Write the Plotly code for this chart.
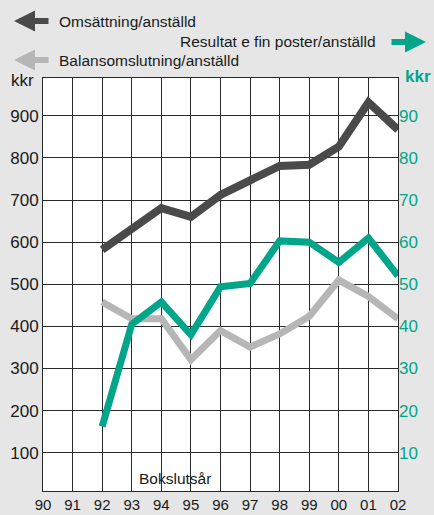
import plotly.graph_objects as go

years = list(range(1992, 2003))
year_ticks = list(range(1990, 2003))
year_labels = ["90", "91", "92", "93", "94", "95", "96", "97", "98", "99", "00", "01", "02"]

omsattning = [582, 632, 681, 660, 712, 747, 781, 784, 827, 932, 867]
balans = [458, 418, 418, 321, 390, 351, 382, 424, 510, 471, 418]
resultat = [16.2, 40.5, 45.8, 38.0, 49.4, 50.2, 60.3, 60.0, 55.2, 61.0, 52.0]

left_ticks = [100, 200, 300, 400, 500, 600, 700, 800, 900]
right_ticks = [10, 20, 30, 40, 50, 60, 70, 80, 90]

DARK = "#4a4a4a"
GRAY = "#b6b6b6"
GREEN = "#00a58a"
FONT = "Liberation Sans, Arial, sans-serif"

fig = go.Figure()
fig.add_trace(go.Scatter(x=years, y=balans, mode="lines",
                         line=dict(color=GRAY, width=7), yaxis="y"))
fig.add_trace(go.Scatter(x=years, y=omsattning, mode="lines",
                         line=dict(color=DARK, width=8), yaxis="y"))
fig.add_trace(go.Scatter(x=years, y=resultat, mode="lines",
                         line=dict(color=GREEN, width=7), yaxis="y2"))

grid = "#2a2a2a"
fig.update_layout(
    width=434, height=515,
    margin=dict(l=43, r=36, t=78, b=24, autoexpand=False),
    paper_bgcolor="#e6e6e6", plot_bgcolor="white",
    showlegend=False,
    font=dict(family=FONT, color="#1a1a1a", size=16),
    xaxis=dict(range=[1990, 2002], tickvals=year_ticks, ticktext=year_labels,
               showgrid=True, gridcolor=grid, gridwidth=1,
               showline=True, linecolor=grid, linewidth=1, mirror=True,
               zeroline=False, ticks="", automargin=False,
               tickfont=dict(size=15, color="#1a1a1a")),
    yaxis=dict(range=[9, 990], tickvals=left_ticks,
               showgrid=True, gridcolor=grid, gridwidth=1,
               showline=True, linecolor=grid, linewidth=1, mirror=True,
               zeroline=False, ticks="", automargin=False,
               tickfont=dict(size=17, color="#1a1a1a")),
    yaxis2=dict(range=[0.9, 99], tickvals=right_ticks, overlaying="y", side="right",
                showgrid=False, zeroline=False, showline=False, ticks="", automargin=False,
                tickfont=dict(size=17, color=GREEN)),
)

PL, PW, PT, PH = 43, 355, 78, 413

def px(x):
    return (x - PL) / PW

def py(y):
    return 1 + (PT - y) / PH

# Axis unit labels
fig.add_annotation(text="kkr", xref="paper", yref="paper", x=px(22), y=py(80),
                   xanchor="center", yanchor="middle", showarrow=False,
                   font=dict(size=17, color="#1a1a1a"))
fig.add_annotation(text="<b>kkr</b>", xref="paper", yref="paper", x=px(418), y=py(77),
                   xanchor="center", yanchor="middle", showarrow=False,
                   font=dict(size=17, color=GREEN))
fig.add_annotation(text="Bokslutsår", xref="paper", yref="paper", x=px(175), y=py(478),
                   xanchor="center", yanchor="middle",
                   showarrow=False, font=dict(size=15.5, color="#1a1a1a"))

# Legend texts with arrows
fig.add_annotation(text="Omsättning/anställd", xref="paper", yref="paper",
                   x=px(57), y=py(22), xanchor="left", yanchor="middle",
                   showarrow=False, font=dict(size=15.5, color="#1a1a1a"))
fig.add_annotation(text="Balansomslutning/anställd", xref="paper", yref="paper",
                   x=px(57), y=py(60), xanchor="left", yanchor="middle",
                   showarrow=False, font=dict(size=15.5, color="#1a1a1a"))
fig.add_annotation(text="Resultat e fin poster/anställd", xref="paper", yref="paper",
                   x=px(378), y=py(42), xanchor="right", yanchor="middle",
                   showarrow=False, font=dict(size=15.5, color="#1a1a1a"))

def arrow(xh, yh, dx, color):
    fig.add_annotation(x=px(xh), y=py(yh), xref="paper", yref="paper",
                       ax=dx, ay=0, text="", showarrow=True, arrowhead=2,
                       arrowsize=0.7, arrowwidth=6, arrowcolor=color)

arrow(14, 21, 36, DARK)
arrow(14, 60, 36, GRAY)
arrow(426, 42, -36, GREEN)

fig.write_html("out.html", config={"displayModeBar": False},
               post_script="document.body.style.margin='0';document.body.style.overflow='hidden';")
